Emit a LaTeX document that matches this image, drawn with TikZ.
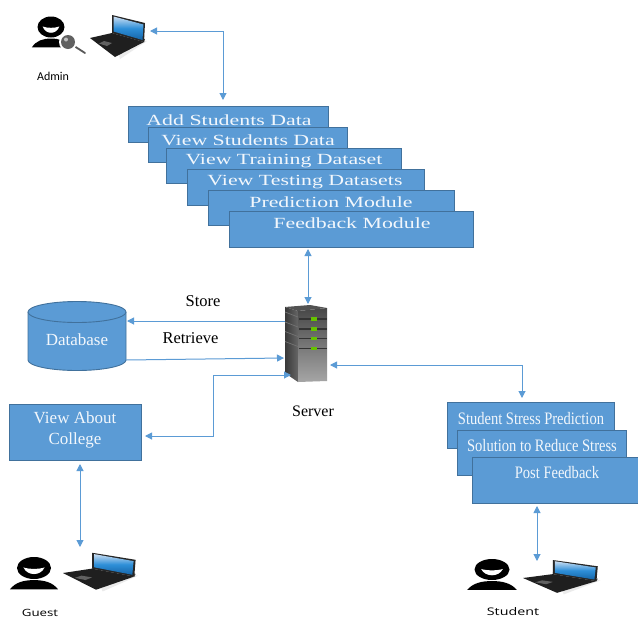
\documentclass[tikz,border=0pt]{standalone}
\usepackage{fontspec}
\setmainfont{Liberation Serif}
\newfontfamily\lblfont{Carlito}
\newfontfamily\wideLbl{Open Sans}
\usetikzlibrary{arrows.meta,calc}
\definecolor{boxblue}{HTML}{5B9BD5}
\definecolor{boxedge}{HTML}{41719C}
\definecolor{linkblue}{HTML}{5B9BD5}
\definecolor{screenlight}{HTML}{C9DDF2}
\definecolor{screenmid}{HTML}{2E8FD8}
\definecolor{screendark}{HTML}{1565A8}
\tikzset{
  bluebox/.style={draw=boxedge,fill=boxblue,line width=0.9pt,inner sep=0pt,outer sep=0pt},
  boxtext/.style={text=white!92!boxblue,inner sep=0pt,font=\fontsize{15.5}{17}\selectfont},
  sidetext/.style={text=white!92!boxblue,inner sep=0pt,font=\fontsize{17}{19}\selectfont},
  plain/.style={text=black,inner sep=0pt,font=\fontsize{16.5}{18}\selectfont},
  link/.style={draw=linkblue,line width=1pt,{Triangle[length=7pt,width=7pt]}-{Triangle[length=7pt,width=7pt]}},
  linkone/.style={draw=linkblue,line width=1pt,-{Triangle[length=7pt,width=7pt]}}
}
\newcommand{\laptopicon}[5]{% name, x, y, xscale, yscale
  \begin{scope}[shift={(#2,#3)},xscale=#4,yscale=#5]
    \fill[black!8] (24,-1) -- (57,3) -- (30,21) -- cycle;
    \fill[black!88] (0,0) -- (22,-5) -- (54,4) -- (25,19) -- cycle;
    \fill[black!62] (14,3) -- (22,5) -- (17,8) -- (9,5.5) -- cycle;
    \fill[black!70] (22,-5) -- (54,4) -- (55,1) -- (22,-8) -- cycle;
    \fill[black!85] (22,-5) -- (22,-23) -- (55,-15) -- (54,4) -- cycle;
    \shade[top color=screenlight,bottom color=screendark,middle color=screenmid]
      (23.5,-6.5) -- (23.5,-21.5) -- (53.5,-13.5) -- (52.5,2) -- cycle;
    \coordinate (#1) at (27,0);
  \end{scope}
}
\newcommand{\personicon}[4]{% x, y (head centre), rx, ry
  \begin{scope}[shift={(#1,#2)}]
    \fill[black] (0,0) ellipse [x radius=#3,y radius=#4];
    \fill[white] (-0.62*#3,-0.05*#4) .. controls (-0.3*#3,0.12*#4) and (0.3*#3,0.12*#4) .. (0.62*#3,-0.05*#4)
       .. controls (0.4*#3,0.75*#4) and (-0.4*#3,0.75*#4) .. (-0.62*#3,-0.05*#4) -- cycle;
    \fill[black] (-1.42*#3,1.95*#4) .. controls (-1.1*#3,1.3*#4) and (-0.6*#3,1.1*#4) .. (0,1.1*#4)
       .. controls (0.6*#3,1.1*#4) and (1.1*#3,1.3*#4) .. (1.42*#3,1.95*#4) -- cycle;
  \end{scope}
}
\begin{document}
\begin{tikzpicture}[x=1pt,y=-1pt]
\useasboundingbox (0,0) rectangle (638,619);
\fill[white] (0,0) rectangle (638,619);

% icons
\personicon{51}{27}{13.5}{10.5}
\draw[black!65,line width=1.8pt,line cap=round] (71,44) -- (85,53);
\fill[white] (68,42) circle (9);
\fill[black!62] (68,42) circle (7);
\fill[white!75!black] (66,39.5) circle (2);
\laptopicon{adminpc}{90}{38}{1}{1}
\personicon{34}{568}{17}{11}
\laptopicon{guestpc}{63}{573}{1.32}{0.88}
\personicon{492}{569.5}{17.5}{10.5}
\laptopicon{studentpc}{523}{578}{1.36}{0.78}

\node[font=\lblfont\fontsize{12}{14}\selectfont,inner sep=0pt] (adminl) at (53,76) {Admin};
\node[font=\wideLbl\fontsize{10}{12}\selectfont,inner sep=0pt] (guestl) at (40,613) {\scalebox{1.33}[1]{Guest}};
\node[font=\wideLbl\fontsize{10.5}{12}\selectfont,inner sep=0pt] (studentl) at (513,612) {\scalebox{1.36}[1]{Student}};

% admin stack
\node[bluebox,minimum width=200.5pt,minimum height=36pt] (add) at (228.25,124) {};
\node[boxtext] (addt) at (229,120) {\scalebox{1.41}[1]{Add Students Data}};
\node[bluebox,minimum width=199.5pt,minimum height=35pt] (viewst) at (247.75,144.5) {};
\node[boxtext] (viewstt) at (248,140) {\scalebox{1.41}[1]{View Students Data}};
\node[bluebox,minimum width=235.5pt,minimum height=35pt] (train) at (283.75,165.5) {};
\node[boxtext] (traint) at (284,161) {\scalebox{1.41}[1]{View Training Dataset}};
\node[bluebox,minimum width=237.5pt,minimum height=36pt] (test) at (305.75,187) {};
\node[boxtext] (testt) at (305,182) {\scalebox{1.41}[1]{View Testing Datasets}};
\node[bluebox,minimum width=246.5pt,minimum height=35pt] (pred) at (331.25,207.5) {};
\node[boxtext] (predt) at (331,202) {\scalebox{1.41}[1]{Prediction Module}};
\node[bluebox,minimum width=244.5pt,minimum height=36pt] (feed) at (351.25,229) {};
\node[boxtext] (feedt) at (352,223) {\scalebox{1.41}[1]{Feedback Module}};

% database
\fill[boxblue] (28,312) -- (28,360) arc [start angle=180,end angle=0,x radius=49,y radius=10.5] -- (126,312) -- cycle;
\draw[boxedge,line width=0.9pt] (28,312) -- (28,360) arc [start angle=180,end angle=0,x radius=49,y radius=10.5] -- (126,312);
\draw[boxedge,fill=boxblue,line width=0.9pt] (77,312) ellipse [x radius=49,y radius=10.5];
\node[sidetext] (db) at (77,340) {Database};

% server
\node[minimum width=42pt,minimum height=76pt,inner sep=0pt] (server) at (306,344.5) {};
\shade[left color=black!78,right color=black!60] (285,307) -- (298,311) -- (298,382) -- (285,373) -- cycle;
\shade[top color=black!72,bottom color=black!35] (298,311) -- (327,308) -- (327,381) -- (298,382) -- cycle;
\fill[black!68] (285,307) -- (310,305) -- (327,308) -- (298,311) -- cycle;
\foreach \yy in {319,329,338.5,348.5}{
  \draw[black!80,line width=1.1pt] (299,\yy) -- (327,\yy);
  \draw[black!55,line width=0.7pt] (285,\yy-7) -- (298,\yy-2);
  \fill[green!60!black!60!yellow] (311,\yy-1.6) rectangle (317,\yy+1.6);
}

% labels
\node[plain] (storel) at (203,301) {Store};
\node[plain] (retrl) at (190.5,338) {Retrieve};
\node[plain,font=\fontsize{16}{18}\selectfont] (serverl) at (313,411) {Server};

% guest box
\node[bluebox,minimum width=132.5pt,minimum height=56pt] (about) at (75.25,432) {};
\node[sidetext,align=center,font=\fontsize{17}{21}\selectfont] (aboutt) at (75,430) {View About\\College};

% student stack
\node[bluebox,minimum width=167.5pt,minimum height=46pt] (ssp) at (530.75,425) {};
\node[sidetext,font=\fontsize{17.5}{19}\selectfont] (sspt) at (531,419) {\scalebox{0.83}[1]{Student Stress Prediction}};
\node[bluebox,minimum width=169.5pt,minimum height=45pt] (sol) at (541.75,452.5) {};
\node[sidetext,font=\fontsize{17.5}{19}\selectfont] (solt) at (542,446) {\scalebox{0.83}[1]{Solution to Reduce Stress}};
\node[bluebox,minimum width=166pt,minimum height=46pt] (post) at (555,480) {};
\node[sidetext,font=\fontsize{17.5}{19}\selectfont] (postt) at (557,473) {\scalebox{0.83}[1]{Post Feedback}};

% connector ends
\coordinate (adminport) at (150,31);
\coordinate (addport) at (223,100);
\coordinate (feedport) at (308,249);
\coordinate (srvtop) at (308,304);
\coordinate (srvstore) at (285,321);
\coordinate (dbstore) at (127,321);
\coordinate (dbretr) at (126,360);
\coordinate (srvretr) at (284,358);
\coordinate (srvguest) at (291,375);
\coordinate (aboutport) at (145,436);
\coordinate (srvright) at (330,365);
\coordinate (sspport) at (522,398);
\coordinate (postport) at (537,506);
\coordinate (studport) at (537,561);
\coordinate (aboutdown) at (80,464);
\coordinate (guestport) at (80,547);

% connectors
\draw[link] (adminport) -| (addport);
\draw[link] (feedport) -- (srvtop);
\draw[linkone] (srvstore) -- (dbstore);
\draw[linkone] (dbretr) -- (srvretr);
\draw[link] (aboutport) -- (213,436) |- (srvguest);
\draw[link] (srvright) -| (sspport);
\draw[link] (postport) -- (studport);
\draw[link] (aboutdown) -- (guestport);
\end{tikzpicture}
\end{document}
